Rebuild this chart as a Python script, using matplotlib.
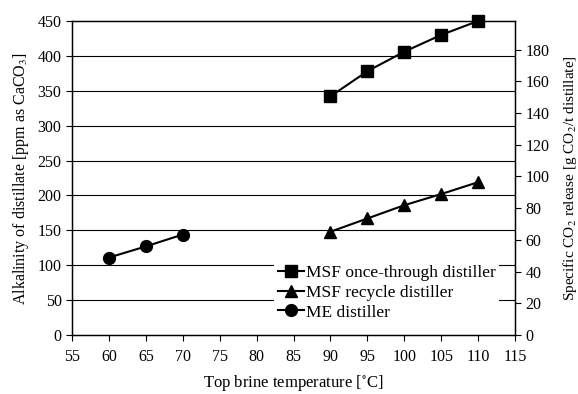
import matplotlib
matplotlib.use("Agg")
import matplotlib.pyplot as plt

plt.rcParams['font.family'] = ['Liberation Serif', 'DejaVu Serif']
plt.rcParams['mathtext.fontset'] = 'stix'

# data
msf_ot_x = [90, 95, 100, 105, 110]
msf_ot_y = [342, 378, 406, 430, 450]
msf_rc_x = [90, 95, 100, 105, 110]
msf_rc_y = [148, 167, 186, 202, 219]
me_x = [60, 65, 70]
me_y = [111, 127, 144]

x_ticks = list(range(55, 120, 5))
left_ticks = list(range(0, 500, 50))
right_ticks = list(range(0, 200, 20))

fig = plt.figure(figsize=(5.78, 3.94), dpi=100)
ax = fig.add_axes([0.1246, 0.1497, 0.891 - 0.1246, 0.9467 - 0.1497])

# grid lines
for v in left_ticks[1:-1]:
    ax.axhline(v, color='black', lw=0.8, zorder=1)

ax.plot(msf_ot_x, msf_ot_y, color='black', marker='s', ms=8, lw=1.5,
        label='MSF once-through distiller', zorder=3, clip_on=False)
ax.plot(msf_rc_x, msf_rc_y, color='black', marker='^', ms=8.5, lw=1.5,
        label='MSF recycle distiller', zorder=3)
ax.plot(me_x, me_y, color='black', marker='o', ms=8.5, lw=1.5,
        label='ME distiller', zorder=3)

ax.set_xlim(55, 115)
ax.set_ylim(0, 450)
ax.set_xticks(x_ticks)
ax.set_yticks(left_ticks)
ax.tick_params(direction='out', length=4, width=0.8, labelsize=11.5, colors='black')
ax.tick_params(axis='x', pad=6)
for s in ax.spines.values():
    s.set_linewidth(1.0)
ax.set_xlabel('Top brine temperature [$^{\\circ}$C]', fontsize=12, labelpad=6)
ax.set_ylabel('Alkalinity of distillate [ppm as CaCO$_3$]', fontsize=11.5, labelpad=5)

ax2 = ax.twinx()
ax2.set_ylim(0, 198)
ax2.set_yticks(right_ticks)
ax2.tick_params(direction='out', length=4, width=0.8, labelsize=11.5)
ax2.set_ylabel('Specific CO$_2$ release [g CO$_2$/t distillate]', fontsize=11, labelpad=8)

leg = ax.legend(loc='lower right', bbox_to_anchor=(0.965, 0.035), frameon=True,
                fontsize=12.5, handlelength=1.5, handletextpad=0.15,
                borderpad=0.2, labelspacing=0.22, borderaxespad=0)
leg.get_frame().set_edgecolor('none')
leg.get_frame().set_facecolor('white')
leg.get_frame().set_alpha(1)
leg.set_zorder(5)

fig.savefig('out.png', dpi=100)
